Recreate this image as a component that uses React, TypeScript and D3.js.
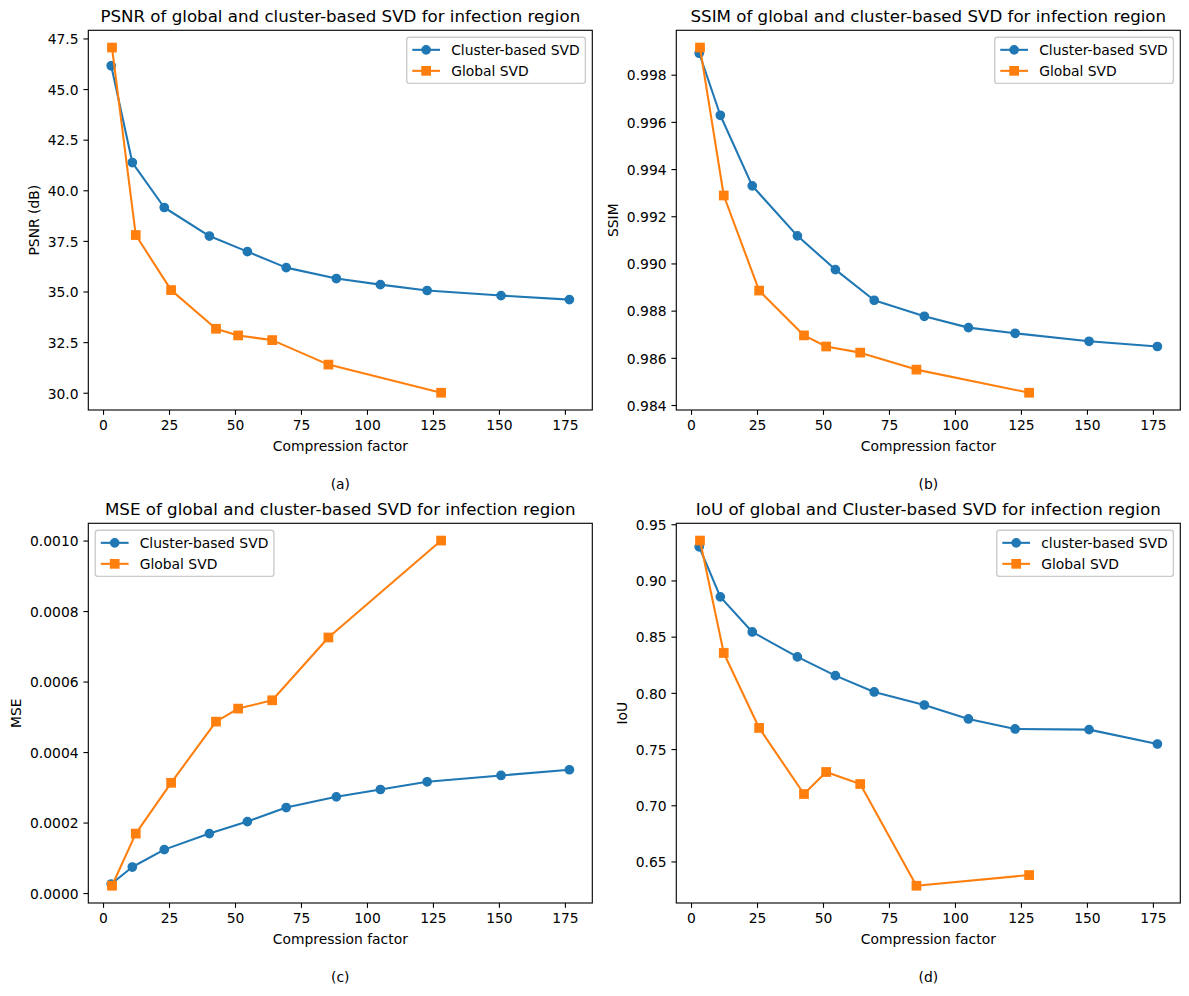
import React, { useEffect, useRef } from "react";
import * as d3 from "d3";

// compression factors (x) for each method
const clusterCF = [3.1, 11.1, 23.2, 40.3, 54.7, 69.4, 88.4, 105.1, 122.8, 150.8, 176.7];
const globalCF = [3.4, 12.4, 25.8, 42.8, 51.2, 64.1, 85.4, 128.1];

const psnrCluster = [46.15, 41.37, 39.15, 37.74, 36.97, 36.18, 35.64, 35.34, 35.05, 34.8, 34.6];
const psnrGlobal = [47.05, 37.79, 35.07, 33.16, 32.83, 32.6, 31.39, 30.0];

const ssimCluster = [0.99891, 0.99628, 0.99329, 0.99117, 0.98974, 0.98844, 0.98776, 0.98728, 0.98704, 0.9867, 0.98648];
const ssimGlobal = [0.99915, 0.99288, 0.98885, 0.98695, 0.98648, 0.98622, 0.9855, 0.98452];

const mseCluster = [2.56e-5, 7.39e-5, 1.232e-4, 1.687e-4, 2.028e-4, 2.426e-4, 2.73e-4, 2.938e-4, 3.157e-4, 3.336e-4, 3.498e-4];
const mseGlobal = [2.08e-5, 1.687e-4, 3.128e-4, 4.863e-4, 5.233e-4, 5.469e-4, 7.25e-4, 1.0e-3];

const iouCluster = [0.9299, 0.8854, 0.8542, 0.832, 0.8153, 0.8008, 0.7892, 0.7768, 0.7679, 0.7673, 0.7545];
const iouGlobal = [0.9355, 0.8355, 0.7688, 0.71, 0.7296, 0.7189, 0.6284, 0.6379];

const xTicks = [0, 25, 50, 75, 100, 125, 150, 175];
const psnrTicks = [30, 32.5, 35, 37.5, 40, 42.5, 45, 47.5];
const ssimTicks = [0.984, 0.986, 0.988, 0.99, 0.992, 0.994, 0.996, 0.998];
const mseTicks = [0, 0.0002, 0.0004, 0.0006, 0.0008, 0.001];
const iouTicks = [0.65, 0.7, 0.75, 0.8, 0.85, 0.9, 0.95];

const BLUE = "#1f77b4";
const ORANGE = "#ff7f0e";
const FONT = "DejaVu Sans, sans-serif";
const PT = 100 / 72;
const AX_W = 504;
const AX_H = 379.7;

const panels = [
  {
    id: "a", left: 88.3, top: 30.3,
    title: "PSNR of global and cluster-based SVD for infection region",
    ylabel: "PSNR (dB)", tag: "(a)", cluster: psnrCluster, global: psnrGlobal,
    yTicks: psnrTicks, fmt: ".1f", loc: "right", clusterLabel: "Cluster-based SVD",
  },
  {
    id: "b", left: 676.3, top: 30.3,
    title: "SSIM of global and cluster-based SVD for infection region",
    ylabel: "SSIM", tag: "(b)", cluster: ssimCluster, global: ssimGlobal,
    yTicks: ssimTicks, fmt: ".3f", loc: "right", clusterLabel: "Cluster-based SVD",
  },
  {
    id: "c", left: 88.3, top: 523.3,
    title: "MSE of global and cluster-based SVD for infection region",
    ylabel: "MSE", tag: "(c)", cluster: mseCluster, global: mseGlobal,
    yTicks: mseTicks, fmt: ".4f", loc: "left", clusterLabel: "Cluster-based SVD",
  },
  {
    id: "d", left: 676.3, top: 523.3,
    title: "IoU of global and Cluster-based SVD for infection region",
    ylabel: "IoU", tag: "(d)", cluster: iouCluster, global: iouGlobal,
    yTicks: iouTicks, fmt: ".2f", loc: "right", clusterLabel: "cluster-based SVD",
  },
];

const padded = (vals: number[]) => {
  const [lo, hi] = d3.extent(vals) as [number, number];
  const m = (hi - lo) * 0.05;
  return [lo - m, hi + m];
};

const drawMarker = (sel: any, kind: string, color: string, cx: number, cy: number) => {
  const s = 6 * PT;
  if (kind === "o") {
    sel.append("circle").attr("cx", cx).attr("cy", cy).attr("r", s / 2)
      .attr("fill", color).attr("stroke", color).attr("stroke-width", PT);
  } else {
    sel.append("rect").attr("x", cx - s / 2).attr("y", cy - s / 2).attr("width", s).attr("height", s)
      .attr("fill", color).attr("stroke", color).attr("stroke-width", PT);
  }
};

const drawPanel = (svg: any, p: any) => {
  const g = svg.append("g").attr("transform", `translate(${p.left},${p.top})`);

  const x = d3.scaleLinear().domain(padded([...clusterCF, ...globalCF])).range([0, AX_W]);
  const y = d3.scaleLinear().domain(padded([...p.cluster, ...p.global])).range([AX_H, 0]);

  g.append("clipPath").attr("id", "clip-" + p.id)
    .append("rect").attr("width", AX_W).attr("height", AX_H);

  const series = [
    { xs: clusterCF, ys: p.cluster, color: BLUE, marker: "o", label: p.clusterLabel },
    { xs: globalCF, ys: p.global, color: ORANGE, marker: "s", label: "Global SVD" },
  ];

  const line = d3.line<[number, number]>().x((d) => x(d[0])).y((d) => y(d[1]));
  series.forEach((s) => {
    const pts = s.xs.map((v: number, i: number) => [v, s.ys[i]] as [number, number]);
    const sg = g.append("g").attr("clip-path", `url(#clip-${p.id})`);
    sg.append("path").attr("d", line(pts)).attr("fill", "none")
      .attr("stroke", s.color).attr("stroke-width", 1.5 * PT).attr("stroke-linejoin", "round");
    pts.forEach((d) => drawMarker(sg, s.marker, s.color, x(d[0]), y(d[1])));
  });

  // axes
  const xa = g.append("g").attr("transform", `translate(0,${AX_H})`)
    .call(d3.axisBottom(x).tickValues(xTicks).tickSize(3.5 * PT).tickPadding(3.5 * PT)
      .tickSizeOuter(0).tickFormat(d3.format("d")));
  xa.select(".domain").remove();
  xa.selectAll("line").attr("stroke", "#000").attr("stroke-width", 0.8 * PT);
  xa.selectAll("text").attr("font-size", 10 * PT).attr("font-family", FONT).attr("fill", "#000");

  const ya = g.append("g")
    .call(d3.axisLeft(y).tickValues(p.yTicks).tickSize(3.5 * PT).tickPadding(3.5 * PT)
      .tickSizeOuter(0).tickFormat(d3.format(p.fmt)));
  ya.select(".domain").remove();
  ya.selectAll("line").attr("stroke", "#000").attr("stroke-width", 0.8 * PT);
  ya.selectAll("text").attr("font-size", 10 * PT).attr("font-family", FONT).attr("fill", "#000")
    .attr("dy", "0.38em");

  g.append("rect").attr("width", AX_W).attr("height", AX_H).attr("fill", "none")
    .attr("stroke", "#000").attr("stroke-width", 0.8 * PT);

  // labels
  const maxW = d3.max(ya.selectAll("text").nodes(), (n: any) => n.getComputedTextLength()) as number;
  const lx = -(7 * PT + maxW + 4 * PT + 3.3);
  g.append("text").attr("transform", `translate(${lx},${AX_H / 2}) rotate(-90)`)
    .attr("text-anchor", "middle").attr("font-family", FONT).attr("font-size", 10 * PT)
    .text(p.ylabel);

  g.append("text").attr("x", AX_W / 2).attr("y", -6 * PT).attr("text-anchor", "middle")
    .attr("font-family", FONT).attr("font-size", 12 * PT).text(p.title);

  g.append("text").attr("x", AX_W / 2).attr("y", AX_H + 41).attr("text-anchor", "middle")
    .attr("font-family", FONT).attr("font-size", 10 * PT).text("Compression factor");

  g.append("text").attr("x", AX_W / 2).attr("y", AX_H + 79.5).attr("text-anchor", "middle")
    .attr("font-family", FONT).attr("font-size", 10 * PT).text(p.tag);

  // legend
  const fs = 10 * PT;
  const lg = g.append("g");
  const box = lg.append("rect");
  const texts = series.map((s) =>
    lg.append("text").attr("font-family", FONT).attr("font-size", fs).text(s.label));
  const tw = d3.max(texts, (t: any) => t.node().getComputedTextLength()) as number;
  const bw = 0.4 * fs + 2 * fs + 0.8 * fs + tw + 0.4 * fs;
  const rowH = 14.06;
  const bh = 0.8 * fs + 2 * rowH + 0.5 * fs;
  const bx = p.loc === "right" ? AX_W - 0.5 * fs - bw : 0.5 * fs;
  const by = 0.5 * fs;
  box.attr("x", bx).attr("y", by).attr("width", bw).attr("height", bh)
    .attr("rx", 0.2 * fs).attr("fill", "#fff").attr("fill-opacity", 0.8)
    .attr("stroke", "#cccccc").attr("stroke-width", PT);
  series.forEach((s, i) => {
    const cy = by + 0.4 * fs + rowH / 2 + i * (rowH + 0.5 * fs);
    const hx = bx + 0.4 * fs;
    lg.append("line").attr("x1", hx).attr("x2", hx + 2 * fs).attr("y1", cy).attr("y2", cy)
      .attr("stroke", s.color).attr("stroke-width", 1.5 * PT);
    drawMarker(lg, s.marker, s.color, hx + fs, cy);
    texts[i].attr("x", hx + 2.8 * fs).attr("y", cy + 5);
    texts[i].raise();
  });
};

export default function App() {
  const ref = useRef<SVGSVGElement>(null);
  useEffect(() => {
    const svg = d3.select(ref.current!);
    svg.selectAll("*").remove();
    panels.forEach((p) => drawPanel(svg, p));
  }, []);
  return (
    <svg
      ref={ref}
      width={1189}
      height={996}
      style={{ position: "absolute", left: 0, top: 0, background: "#fff" }}
    />
  );
}
